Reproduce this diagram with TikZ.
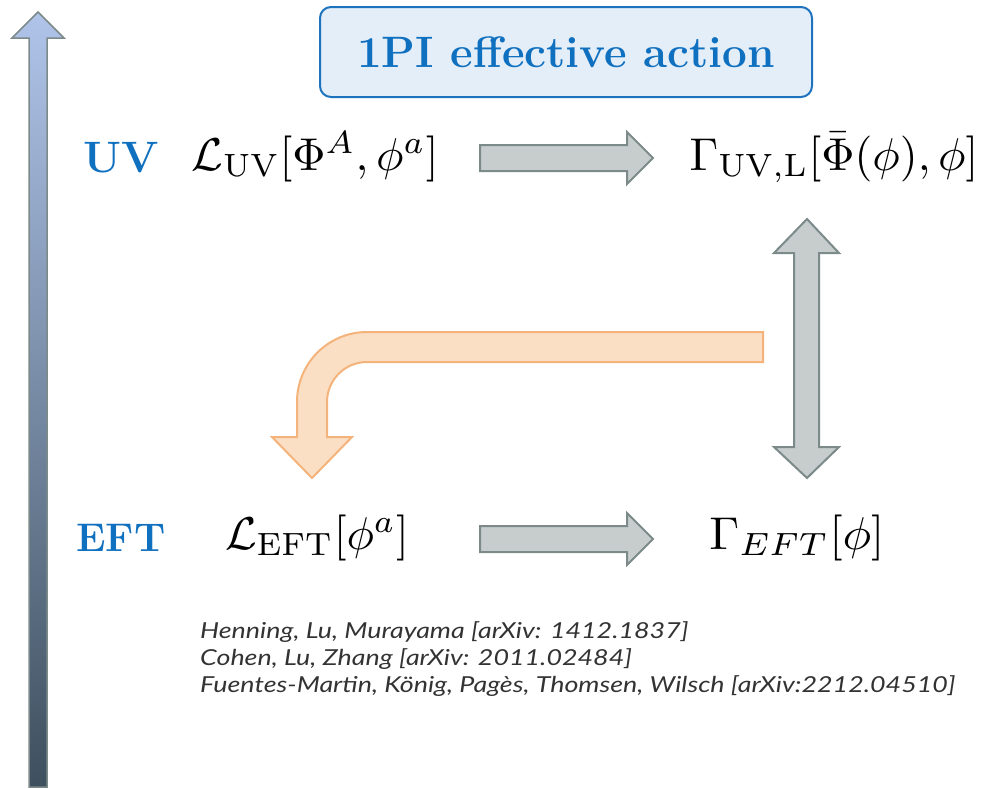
\documentclass[tikz,border=0pt]{standalone}
\usepackage{graphicx}
\usepackage{fontspec}
\newfontfamily\citefont{Lato}
\definecolor{bluetxt}{HTML}{1070C0}
\definecolor{boxfill}{HTML}{E4EEF8}
\definecolor{boxline}{HTML}{1E73BE}
\definecolor{grayfill}{HTML}{C7CDCD}
\definecolor{grayline}{HTML}{7C8A8A}
\definecolor{orfill}{HTML}{FADFC5}
\definecolor{orline}{HTML}{F4B37A}
\definecolor{axtop}{HTML}{B0C4EA}
\definecolor{axbot}{HTML}{3E505E}
\newcommand{\bigmath}[1]{\scalebox{4.6}{$#1$}}
\newcommand{\citetext}[1]{\scalebox{1.22}[1]{#1}}
\tikzset{
  grayarrow/.style={fill=grayfill, draw=grayline, line width=2pt, line join=miter},
  orarrow/.style={fill=orfill, draw=orline, line width=2pt},
  mathlbl/.style={anchor=base, inner sep=0pt},
  sidelbl/.style={anchor=base, inner sep=0pt, text=bluetxt, font=\fontsize{40}{48}\selectfont\bfseries},
  citelbl/.style={anchor=base west, inner sep=0pt, text=black!80, font=\fontsize{22}{26}\selectfont\citefont\itshape},
}
\begin{document}
\begin{tikzpicture}[x=1pt, y=-1pt]
\useasboundingbox (0,0) rectangle (982,788);
% energy axis
\shadedraw[top color=axtop, bottom color=axbot, draw=grayline, line width=1.5pt]
  (29,787) -- (29,38) -- (12,38) -- (38,12) -- (64,38) -- (47,38) -- (47,787) -- cycle;
% title
\node[draw=boxline, fill=boxfill, line width=2pt, rounded corners=11pt,
      minimum width=492pt, minimum height=90pt, text=bluetxt,
      font=\fontsize{44}{52}\selectfont\bfseries] (title) at (566,52) {1PI effective action};
% side labels
\node[sidelbl, font=\fontsize{44}{52}\selectfont\bfseries] (uv) at (121,172) {UV};
\node[sidelbl] (eft) at (121,551) {EFT};
% math
\node[mathlbl] (luv) at (315,170) {\bigmath{\mathcal{L}_{\rm UV}[\Phi^A,\phi^a]}};
\node[mathlbl] (guv) at (834,170) {\bigmath{\Gamma_{\rm UV,L}[\bar\Phi(\phi),\phi]}};
\node[mathlbl] (left) at (317,549) {\bigmath{\mathcal{L}_{\rm EFT}[\phi^a]}};
\node[mathlbl] (geft) at (797,549) {\scalebox{4.8}[4.6]{$\Gamma_{EFT}[\phi]$}};
% gray arrows
\draw[grayarrow] (480,145) -- (627,145) -- (627,132) -- (653,158) -- (627,184) -- (627,171) -- (480,171) -- cycle;
\draw[grayarrow] (480,526) -- (627,526) -- (627,513) -- (653,539) -- (627,565) -- (627,552) -- (480,552) -- cycle;
\draw[grayarrow] (807,219) -- (839,253) -- (819,253) -- (819,447) -- (839,447) -- (807,478)
  -- (774,447) -- (794,447) -- (794,253) -- (774,253) -- cycle;
% orange bent arrow
\draw[orarrow] (763,332) -- (367,332) .. controls (328.3,332) and (297,363.3) .. (297,402)
  -- (297,437) -- (272,437) -- (312,478) -- (352,437) -- (327,437) -- (327,402)
  .. controls (327,379.9) and (344.9,362) .. (367,362) -- (763,362) -- cycle;
% citations
\node[citelbl] (c1) at (200,638) {\citetext{Henning, Lu, Murayama [arXiv: 1412.1837]}};
\node[citelbl] (c2) at (200,665) {\citetext{Cohen, Lu, Zhang [arXiv: 2011.02484]}};
\node[citelbl] (c3) at (200,692) {\citetext{Fuentes-Martin, König, Pagès, Thomsen, Wilsch [arXiv:2212.04510]}};
\end{tikzpicture}
\end{document}
